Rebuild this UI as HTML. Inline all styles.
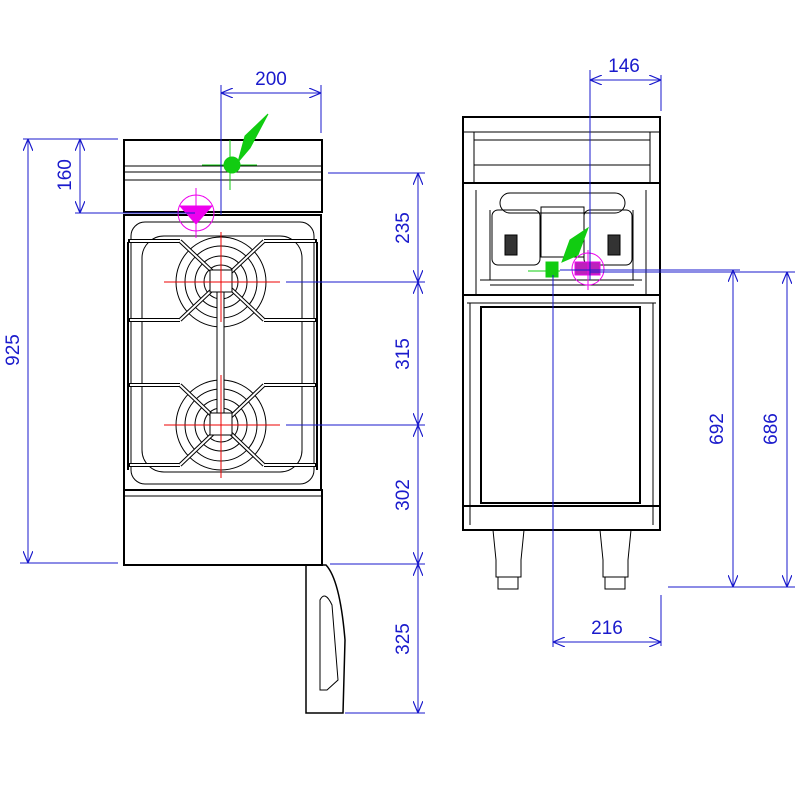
<!DOCTYPE html>
<html><head><style>html,body{margin:0;padding:0;background:#fff}svg{display:block}</style></head><body>
<svg width="800" height="800" viewBox="0 0 800 800" xmlns="http://www.w3.org/2000/svg" font-family="Liberation Sans, sans-serif">
<defs>
<marker id="a" viewBox="0 0 12 10" refX="12" refY="5" markerWidth="12" markerHeight="10" markerUnits="userSpaceOnUse" orient="auto-start-reverse"><path d="M0 0 L12 5 L0 10" fill="none" stroke="#1a1acc" stroke-width="1.2"/></marker>
</defs>
<!-- ===== LEFT VIEW ===== -->
<g fill="none" stroke="#000" stroke-width="1">
<rect x="124" y="140" width="198" height="72" stroke-width="2"/>
<line x1="124" y1="166" x2="322" y2="166"/><line x1="124" y1="172" x2="322" y2="172"/><line x1="124" y1="180" x2="322" y2="180"/>
<rect x="124" y="215" width="197" height="275" stroke-width="2"/>
<rect x="131" y="222" width="183" height="262" rx="14"/>
<rect x="142" y="236" width="160" height="236" rx="22"/>
<line x1="128" y1="242" x2="128" y2="470" stroke-width="2"/>
<line x1="317" y1="242" x2="317" y2="470" stroke-width="2"/>
<g stroke-width="4">
<line x1="128" y1="241" x2="180" y2="241"/><line x1="264" y1="241" x2="317" y2="241"/>
<line x1="128" y1="320" x2="180" y2="320"/><line x1="264" y1="320" x2="317" y2="320"/>
<line x1="128" y1="385" x2="180" y2="385"/><line x1="264" y1="385" x2="317" y2="385"/>
<line x1="128" y1="465" x2="180" y2="465"/><line x1="264" y1="465" x2="317" y2="465"/>
</g>
<g stroke-width="2" stroke="#fff">
<line x1="130" y1="241" x2="180" y2="241"/><line x1="264" y1="241" x2="315" y2="241"/>
<line x1="130" y1="320" x2="180" y2="320"/><line x1="264" y1="320" x2="315" y2="320"/>
<line x1="130" y1="385" x2="180" y2="385"/><line x1="264" y1="385" x2="315" y2="385"/>
<line x1="130" y1="465" x2="180" y2="465"/><line x1="264" y1="465" x2="315" y2="465"/>
</g>
<g stroke-width="1">
<circle cx="221" cy="282" r="45"/><circle cx="221" cy="282" r="36"/><circle cx="221" cy="282" r="26"/><circle cx="221" cy="282" r="17"/>
<circle cx="221" cy="425" r="45"/><circle cx="221" cy="425" r="36"/><circle cx="221" cy="425" r="26"/><circle cx="221" cy="425" r="17"/>
</g>
<g stroke-width="4" stroke="#000"><line x1="180" y1="241" x2="264" y2="320"/><line x1="264" y1="241" x2="180" y2="320"/><line x1="180" y1="385" x2="264" y2="465"/><line x1="264" y1="385" x2="180" y2="465"/></g>
<g stroke-width="2" stroke="#fff"><line x1="180" y1="241" x2="264" y2="320"/><line x1="264" y1="241" x2="180" y2="320"/><line x1="180" y1="385" x2="264" y2="465"/><line x1="264" y1="385" x2="180" y2="465"/></g>
<rect x="217" y="292" width="7" height="122" fill="#fff"/>
<rect x="210" y="270" width="22" height="22" fill="#fff"/><rect x="210" y="413" width="22" height="22" fill="#fff"/>
<rect x="124" y="490" width="198" height="75" stroke-width="2"/>
<line x1="124" y1="496" x2="322" y2="496"/>
<path d="M306 565 L306 713 L343 713 L345 640 Q340 580 326 565 Z" stroke-width="1.5"/>
<path d="M320 600 Q325 590 332 605 L338 680 L327 690 L320 690 Z"/>
</g>
<g stroke="#e00" stroke-width="1">
<line x1="164" y1="282" x2="280" y2="282"/><line x1="221" y1="232" x2="221" y2="322"/>
<line x1="164" y1="425" x2="280" y2="425"/><line x1="221" y1="375" x2="221" y2="478"/>
</g>
<g stroke="#1c1" fill="#1c1"><line x1="202" y1="165" x2="257" y2="165"/><line x1="230" y1="140" x2="230" y2="190"/><circle cx="232" cy="165" r="8"/><path d="M238 162 L245 136 L268 114 L250 148 Z"/></g>
<g stroke="#e0e" fill="none"><circle cx="196" cy="213" r="18"/><line x1="196" y1="188" x2="196" y2="238"/><path d="M180 206 L212 206 L196 224 Z" fill="#e0e"/></g>
<g stroke="#1a1acc" stroke-width="1" fill="none">
<line x1="221" y1="85" x2="221" y2="215"/><line x1="321" y1="85" x2="321" y2="133"/>
<line x1="221" y1="93" x2="321" y2="93" marker-start="url(#a)" marker-end="url(#a)"/>
<line x1="23" y1="139" x2="118" y2="139"/><line x1="20" y1="563" x2="118" y2="563"/>
<line x1="28" y1="139" x2="28" y2="563" marker-start="url(#a)" marker-end="url(#a)"/>
<line x1="75" y1="213" x2="195" y2="213"/>
<line x1="80" y1="139" x2="80" y2="213" marker-start="url(#a)" marker-end="url(#a)"/>
<line x1="328" y1="173" x2="425" y2="173"/><line x1="286" y1="282" x2="425" y2="282"/><line x1="286" y1="425" x2="425" y2="425"/>
<line x1="330" y1="564" x2="425" y2="564"/><line x1="345" y1="713" x2="425" y2="713"/>
<line x1="418" y1="173" x2="418" y2="282" marker-start="url(#a)" marker-end="url(#a)"/>
<line x1="418" y1="282" x2="418" y2="425" marker-start="url(#a)" marker-end="url(#a)"/>
<line x1="418" y1="425" x2="418" y2="564" marker-start="url(#a)" marker-end="url(#a)"/>
<line x1="418" y1="564" x2="418" y2="713" marker-start="url(#a)" marker-end="url(#a)"/>
</g>
<!-- ===== RIGHT VIEW ===== -->
<g fill="none" stroke="#000" stroke-width="1">
<rect x="463" y="117" width="197" height="413" stroke-width="2"/>
<line x1="463" y1="132" x2="660" y2="132"/><line x1="474" y1="140" x2="650" y2="140"/><line x1="474" y1="165" x2="650" y2="165"/>
<line x1="474" y1="132" x2="474" y2="183"/><line x1="650" y1="132" x2="650" y2="183"/>
<line x1="463" y1="183" x2="660" y2="183" stroke-width="2"/>
<line x1="463" y1="295" x2="660" y2="295" stroke-width="2"/>
<line x1="476" y1="190" x2="476" y2="295"/><line x1="646" y1="190" x2="646" y2="295"/>
<line x1="490" y1="210" x2="490" y2="280"/><line x1="633" y1="210" x2="633" y2="280"/>
<line x1="480" y1="280" x2="642" y2="280"/><line x1="490" y1="285" x2="634" y2="285"/>
<rect x="500" y="193" width="125" height="20" rx="10"/>
<rect x="492" y="210" width="48" height="55" rx="6"/><rect x="584" y="210" width="48" height="55" rx="6"/>
<rect x="541" y="207" width="43" height="50"/>
<rect x="505" y="235" width="12" height="20" fill="#333"/><rect x="608" y="235" width="12" height="20" fill="#333"/>
<line x1="467" y1="303" x2="656" y2="303"/>
<rect x="481" y="307" width="159" height="196" stroke-width="2"/>
<line x1="470" y1="303" x2="470" y2="525"/><line x1="653" y1="303" x2="653" y2="525"/>
<line x1="463" y1="506" x2="660" y2="506" stroke-width="2"/>
<path d="M493 530 L496 560 L496 577 L521 577 L521 560 L524 530"/>
<rect x="498" y="577" width="20" height="12"/>
<path d="M600 530 L603 560 L603 577 L628 577 L628 560 L631 530"/>
<rect x="605" y="577" width="20" height="12"/>
</g>
<g stroke="#1c1" fill="#1c1"><line x1="528" y1="271" x2="560" y2="271"/><rect x="546" y="262" width="12" height="15"/><path d="M562 262 L570 240 L588 228 L578 255 Z"/></g>
<g stroke="#e0e" fill="none"><circle cx="588" cy="269" r="16"/><rect x="575" y="262" width="25" height="13" fill="#b2b"/><line x1="588" y1="250" x2="588" y2="290"/></g>
<g stroke="#1a1acc" stroke-width="1" fill="none">
<line x1="590" y1="70" x2="590" y2="280"/><line x1="661" y1="75" x2="661" y2="111"/>
<line x1="590" y1="80" x2="661" y2="80" marker-start="url(#a)" marker-end="url(#a)"/>
<line x1="560" y1="270" x2="740" y2="270"/><line x1="590" y1="272" x2="795" y2="272"/>
<line x1="668" y1="587" x2="795" y2="587"/>
<line x1="733" y1="270" x2="733" y2="587" marker-start="url(#a)" marker-end="url(#a)"/>
<line x1="787" y1="272" x2="787" y2="587" marker-start="url(#a)" marker-end="url(#a)"/>
<line x1="553" y1="275" x2="553" y2="647"/><line x1="661" y1="595" x2="661" y2="646"/>
<line x1="553" y1="642" x2="661" y2="642" marker-start="url(#a)" marker-end="url(#a)"/>
</g>
<g fill="#1a1acc" font-size="19" text-anchor="middle">
<text x="271" y="85">200</text>
<text x="624" y="72">146</text>
<text x="607" y="634">216</text>
<text transform="translate(19,350) rotate(-90)">925</text>
<text transform="translate(71,175) rotate(-90)">160</text>
<text transform="translate(409,228) rotate(-90)">235</text>
<text transform="translate(409,354) rotate(-90)">315</text>
<text transform="translate(409,495) rotate(-90)">302</text>
<text transform="translate(409,639) rotate(-90)">325</text>
<text transform="translate(723,429) rotate(-90)">692</text>
<text transform="translate(777,429) rotate(-90)">686</text>
</g>
</svg>
</body></html>
